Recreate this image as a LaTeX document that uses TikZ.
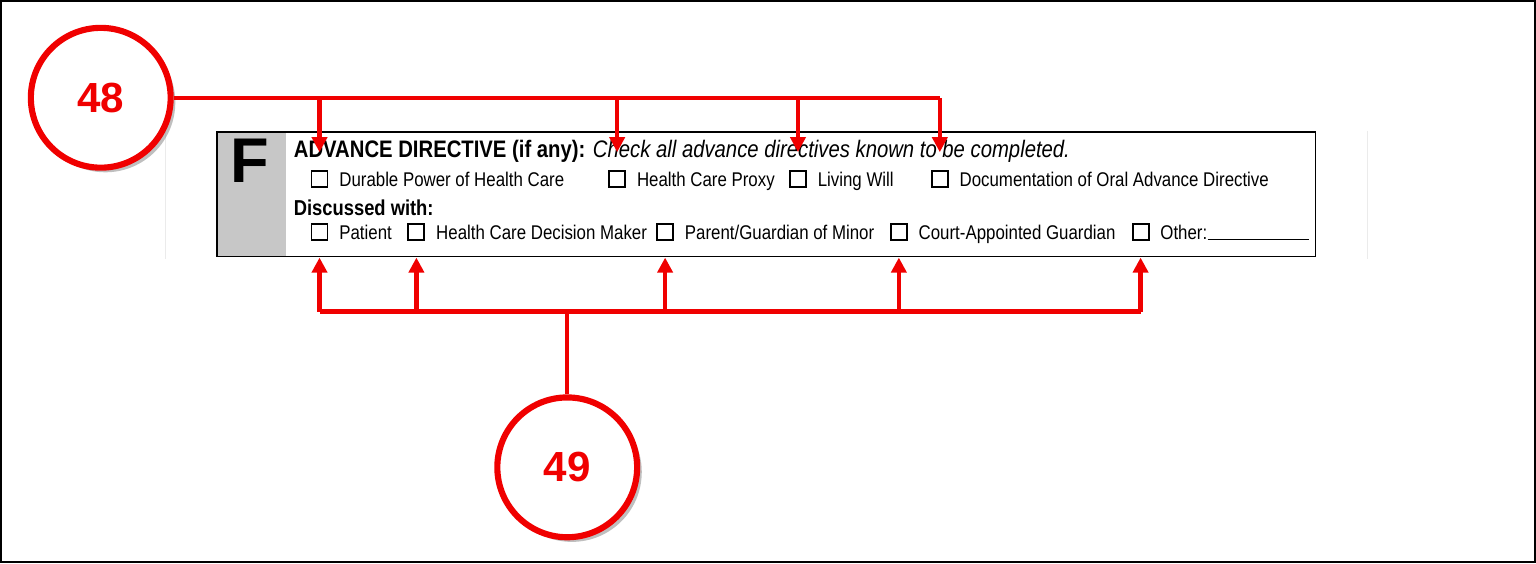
\documentclass[tikz,border=0pt]{standalone}
\usepackage{fontspec}
\setmainfont{Liberation Sans}
\newfontfamily\formfont[FakeStretch=0.85]{Liberation Sans}
\usetikzlibrary{arrows.meta}
\usetikzlibrary{positioning}
\usetikzlibrary{shadows}
\definecolor{callred}{RGB}{240,0,0}
\tikzset{
    chk/.style={draw,line width=1.1pt,minimum size=0.32cm,inner sep=0pt},
    lbl/.style={anchor=base west,inner sep=0pt,xshift=6pt,yshift=0.5pt,font=\formfont\fontsize{11.3}{12}\selectfont},
    bubble/.style={circle,draw=callred,line width=3.5pt,fill=white,minimum size=2.8cm,
        font=\bfseries\fontsize{24}{26}\selectfont,text=callred,drop shadow={opacity=0.5}},
    callout/.style={callred,line width=2.5pt},
    pointer/.style={callout,-{Triangle[length=0.3cm,width=0.3cm]}}
}
\begin{document}
\begin{tikzpicture}[x=0.02cm,y=-0.02cm]
    \draw[line width=1pt] (0,0) rectangle (1536,562);
    \draw[black!8] (165,130) -- (165,258) (1368,130) -- (1368,258);
    % form section
    \fill[black!22] (216,131) rectangle (285,256);
    \draw[line width=1pt] (216,131) rectangle (1316,256);
    \node (F) at (249,160) {\bfseries\fontsize{36}{36}\selectfont F};
    \node [anchor=west,inner sep=0pt] (title) at (293,151)
        {\formfont\fontsize{13.6}{14}\selectfont\textbf{ADVANCE DIRECTIVE (if any):} \textit{Check all advance directives known to be completed.}};
    \node [chk] (a1) at (319,178) {};
    \node [lbl] at (a1.south east) {Durable Power of Health Care};
    \node [chk] (a2) at (617,178) {};
    \node [lbl] at (a2.south east) {Health Care Proxy};
    \node [chk] (a3) at (798,178) {};
    \node [lbl] at (a3.south east) {Living Will};
    \node [chk] (a4) at (940,178) {};
    \node [lbl] at (a4.south east) {Documentation of Oral Advance Directive};
    \node [anchor=west,inner sep=0pt] (disc) at (293,207) {\formfont\bfseries\fontsize{12.3}{12}\selectfont Discussed with:};
    \node [chk] (b1) at (319,231) {};
    \node [lbl] at (b1.south east) {Patient};
    \node [chk] (b2) at (416,231) {};
    \node [lbl] at (b2.south east) {Health Care Decision Maker};
    \node [chk] (b3) at (665,231) {};
    \node [lbl] at (b3.south east) {Parent/Guardian of Minor};
    \node [chk] (b4) at (899,231) {};
    \node [lbl] at (b4.south east) {Court-Appointed Guardian};
    \node [chk] (b5) at (1141,231) {};
    \node [lbl] (other) at (b5.south east) {Other:};
    \draw[line width=0.8pt] (1208,239) -- (1310,239);
    % callouts
    \node [bubble] (c48) at (100,97) {48};
    \node [bubble] (c49) at (567,467) {49};
    \coordinate (top) at (940,97);
    \coordinate (bot) at (567,311);
    \draw[callout] (c48.east) -- (top);
    \foreach \n in {a1,a2,a3,a4}
        \draw[pointer] (c48.east -| \n) -- ([yshift=10]\n.north);
    \draw[callout] (c49.north) -- (bot);
    \draw[callout] (bot -| b1) -- (bot -| b5);
    \foreach \n in {b1,b2,b3,b4,b5}
        \draw[pointer] (bot -| \n) -- (\n |- 0,257);
\end{tikzpicture}
\end{document}
